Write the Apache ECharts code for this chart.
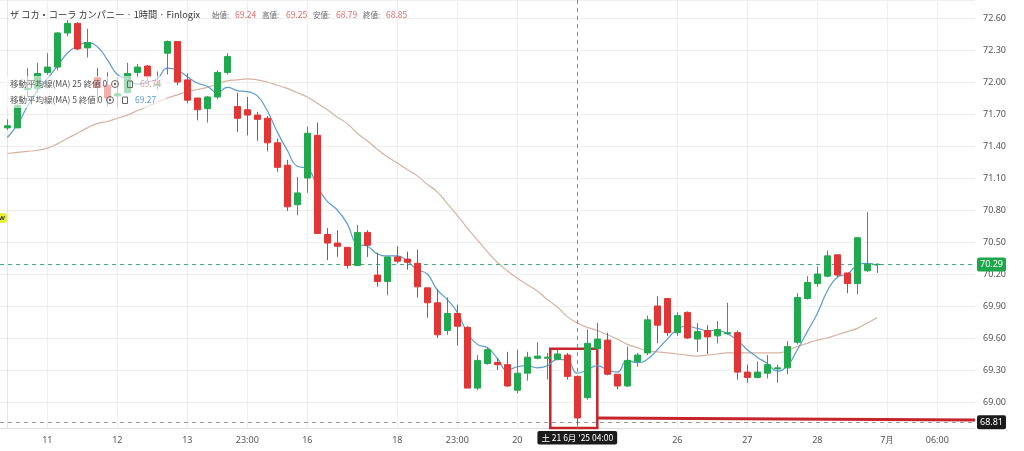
<!DOCTYPE html>
<html><head><meta charset="utf-8">
<script src="https://cdn.jsdelivr.net/npm/echarts@6/dist/echarts.min.js"></script>
<style>html,body{margin:0;padding:0;background:#fff}#c{width:1024px;height:451px}</style>
</head><body><div id="c"></div>
<script>
const opens = [71.57,71.57,71.93,71.94,72.09,72.14,72.46,72.55,72.32,72.04,71.97,71.87,71.90,72.09,72.15,71.97,72.27,72.38,72.02,71.85,71.75,71.86,72.09,71.77,71.74,71.69,71.66,71.43,71.22,70.85,71.10,71.50,70.57,70.49,70.45,70.28,70.59,70.19,70.13,70.36,70.34,70.30,70.07,69.93,69.67,69.83,69.70,69.13,69.36,69.37,69.35,69.11,69.27,69.41,69.41,69.40,69.44,69.24,69.04,69.50,69.58,69.26,69.15,69.38,69.46,69.90,69.97,69.65,69.84,69.59,69.67,69.62,69.64,69.65,69.28,69.23,69.27,69.31,69.32,69.56,69.97,70.11,70.18,70.38,70.21,70.11,70.23,70.29];
const closes = [71.59,71.78,71.94,72.08,72.14,72.46,72.55,72.31,72.37,71.95,71.85,71.89,72.08,72.14,72.05,71.98,72.38,72.00,71.83,71.74,71.86,72.09,72.24,71.66,71.69,71.65,71.43,71.20,70.83,70.96,71.52,70.58,70.49,70.46,70.28,70.59,70.47,70.13,70.36,70.32,70.31,70.08,69.93,69.63,69.83,69.71,69.13,69.39,69.49,69.35,69.15,69.27,69.42,69.43,69.42,69.45,69.24,68.85,69.55,69.59,69.26,69.15,69.39,69.44,69.77,69.72,69.65,69.81,69.60,69.66,69.61,69.68,69.65,69.28,69.23,69.28,69.35,69.32,69.52,69.98,70.12,70.20,70.37,70.19,70.11,70.54,70.29,70.29];
const lows = [71.55,71.57,71.86,71.90,72.07,72.11,72.43,72.30,72.23,71.80,71.77,71.76,71.90,72.04,72.02,71.93,72.07,71.97,71.80,71.64,71.62,71.84,72.07,71.53,71.50,71.45,71.35,71.16,70.79,70.75,70.96,70.58,70.33,70.36,70.25,70.28,70.36,70.08,70.00,70.30,70.24,69.98,69.79,69.60,69.63,69.53,69.13,69.11,69.35,69.30,69.14,69.08,69.20,69.40,69.21,69.39,69.21,68.79,69.02,69.49,69.25,69.12,69.14,69.33,69.44,69.55,69.62,69.62,69.59,69.47,69.45,69.55,69.63,69.21,69.18,69.22,69.22,69.18,69.26,69.54,69.96,70.08,70.17,70.17,70.02,70.01,70.22,70.21];
const highs = [71.65,71.81,72.13,72.18,72.27,72.47,72.58,72.56,72.50,72.13,72.09,72.05,72.18,72.17,72.16,72.10,72.39,72.38,72.08,71.85,71.87,72.11,72.27,71.90,71.86,71.72,71.68,71.47,71.27,71.11,71.58,71.62,70.63,70.61,70.45,70.66,70.61,70.40,70.36,70.46,70.41,70.43,70.07,70.06,69.98,69.91,69.71,69.44,69.51,69.41,69.47,69.49,69.47,69.56,69.46,69.49,69.46,69.25,69.68,69.74,69.65,69.26,69.52,69.46,69.81,69.99,69.97,69.84,69.85,69.74,69.72,69.76,69.93,69.67,69.35,69.38,69.44,69.35,69.57,70.02,70.18,70.27,70.42,70.38,70.21,70.54,70.78,70.30];
const ma5 = [71.48,71.60,71.77,71.92,72.03,72.15,72.27,72.34,72.37,72.33,72.21,72.07,72.03,71.98,72.00,72.03,72.13,72.11,72.05,71.99,71.96,71.90,71.95,71.92,71.91,71.87,71.73,71.53,71.36,71.21,71.19,71.02,70.88,70.80,70.67,70.48,70.46,70.39,70.37,70.37,70.32,70.24,70.20,70.05,69.96,69.84,69.65,69.54,69.51,69.41,69.30,69.33,69.34,69.32,69.34,69.40,69.39,69.27,69.30,69.34,69.30,69.28,69.39,69.37,69.40,69.49,69.59,69.68,69.71,69.69,69.67,69.67,69.64,69.58,69.49,69.42,69.36,69.29,69.34,69.49,69.66,69.83,70.04,70.17,70.20,70.28,70.30,70.28];
const ma25 = [71.33,71.34,71.35,71.36,71.38,71.42,71.47,71.52,71.57,71.61,71.63,71.66,71.69,71.73,71.77,71.81,71.85,71.88,71.91,71.93,71.95,71.98,72.01,72.02,72.03,72.02,72.00,71.97,71.94,71.90,71.86,71.80,71.74,71.67,71.61,71.52,71.45,71.37,71.30,71.24,71.18,71.12,71.04,70.97,70.86,70.75,70.63,70.52,70.41,70.31,70.23,70.16,70.10,70.04,69.96,69.89,69.80,69.74,69.70,69.67,69.63,69.59,69.54,69.51,69.48,69.47,69.46,69.45,69.44,69.43,69.44,69.45,69.46,69.46,69.46,69.46,69.46,69.46,69.48,69.52,69.55,69.58,69.60,69.63,69.66,69.69,69.74,69.79];
const tickIdx = [4,11,18,24,30,39,45,51,67,74,81,88,93];
const tickLabels = ['11','12','13','23:00','16','18','23:00','20','26','27','28','7月','06:00'];
const lastPrice = 70.29;
const hoverIdx = 57;
const hoverPrice = 68.81;
const hoverTimeLabel = "土 21 6月 '25 04:00";
const boxFrom = [54.3, 69.50];
const lineFrom = [59.0, 68.85];
const lineTo = [96.77, 68.83];

const UP = '#22a94f', DOWN = '#e03636';
const CJK = '"Noto Sans CJK JP","Noto Sans",sans-serif';
const candleData = opens.map((o, i) => [i, o, closes[i], lows[i], highs[i]]);
const chart = echarts.init(document.getElementById('c'), null, {renderer: 'canvas'});
const fmt = v => v.toFixed(2);

function txt(text, x, y, fill, size, extra) {
  return Object.assign({type: 'text', z: 20, style: {text: text, x: x, y: y, fill: fill, font: size + 'px ' + CJK, verticalAlign: 'middle', align: 'left'}}, extra || {});
}

const yMin = 68.756, yMax = 72.769;

chart.setOption({
  animation: false,
  backgroundColor: '#fff',
  grid: {left: 0, right: 49, top: 0, bottom: 23, containLabel: false, outerBoundsMode: 'none'},
  xAxis: {
    type: 'value', min: -0.73, max: 96.77,
    axisLine: {show: true, lineStyle: {color: '#dddddd'}},
    axisTick: {show: false, customValues: tickIdx},
    axisLabel: {customValues: tickIdx, color: '#555', fontSize: 9, fontFamily: 'Noto Sans', margin: 8,
      formatter: v => { const k = tickIdx.indexOf(v); return k >= 0 ? tickLabels[k] : ''; }},
    splitLine: {show: true, lineStyle: {color: '#efefef', width: 1}}
  },
  yAxis: {
    type: 'value', position: 'right', min: yMin, max: yMax, splitNumber: 13, scale: true,
    axisLine: {show: true, lineStyle: {color: '#e6e6e6'}},
    axisTick: {show: false},
    axisLabel: {color: '#555', fontSize: 9, fontFamily: 'Noto Sans', margin: 8, showMinLabel: false, showMaxLabel: false, formatter: v => fmt(v)},
    splitLine: {show: true, lineStyle: {color: '#efefef', width: 1}}
  },
  series: [
    {
      type: 'line', name: 'MA25', data: ma25.map((v, i) => [i, v]), smooth: true, symbol: 'none',
      lineStyle: {color: '#d6b2a4', width: 1.2}, z: 3
    },
    {
      type: 'line', name: 'MA5', data: ma5.map((v, i) => [i, v]), smooth: true, symbol: 'none',
      lineStyle: {color: '#5b9bcf', width: 1.2}, z: 4
    },
    {
      type: 'candlestick', name: 'KO', data: candleData, barWidth: 7, z: 5,
      itemStyle: {color: UP, color0: DOWN, borderColor: UP, borderColor0: DOWN, borderWidth: 1},
      markArea: {
        silent: true,
        itemStyle: {color: 'rgba(0,0,0,0)', borderColor: '#c4262c', borderWidth: 2.5},
        data: [[{xAxis: boxFrom[0], yAxis: boxFrom[1]}, {xAxis: lineFrom[0], yAxis: yMin}]]
      },
      markLine: {
        silent: true, symbol: ['none', 'none'], animation: false,
        data: [
          {yAxis: lastPrice, lineStyle: {color: '#3fae82', type: [4, 4], width: 1},
            label: {show: true, position: 'end', formatter: fmt(lastPrice), color: '#fff', backgroundColor: '#1fa64a',
              fontSize: 9, fontFamily: 'Noto Sans', padding: [3, 3, 2, 3], borderRadius: 2, distance: 2}},
          {yAxis: hoverPrice, lineStyle: {color: '#9a9a9a', type: [4, 4], width: 1},
            label: {show: true, position: 'end', formatter: fmt(hoverPrice), color: '#fff', backgroundColor: '#1b1b1b',
              fontSize: 9, fontFamily: 'Noto Sans', padding: [3, 3, 2, 3], borderRadius: 2, distance: 2}},
          {xAxis: hoverIdx, lineStyle: {color: '#8a8a8a', type: [4, 4], width: 1},
            label: {show: true, position: 'start', formatter: hoverTimeLabel, color: '#fff', backgroundColor: '#1b1b1b',
              fontSize: 8.5, fontFamily: CJK, padding: [3, 4, 2, 4], borderRadius: 2, distance: 3}},
          [{coord: lineFrom, lineStyle: {color: '#c4262c', type: 'solid', width: 3}, label: {show: false}}, {coord: lineTo}]
        ]
      }
    }
  ],
  graphic: [
    {type: 'rect', z: 15, shape: {x: 6, y: 76, width: 160, height: 32}, style: {fill: 'rgba(255,255,255,0.6)'}},
    txt('ザ コカ・コーラ カンパニー · 1時間 · Finlogix', 10, 15, '#333', 9.2),
    txt('始値:', 212, 15, '#666', 7.5),
    txt(fmt(opens[hoverIdx]), 235, 15, '#e06a6a', 8.5),
    txt('高値:', 262, 15, '#666', 7.5),
    txt(fmt(highs[hoverIdx]), 286, 15, '#e06a6a', 8.5),
    txt('安値:', 313, 15, '#666', 7.5),
    txt(fmt(lows[hoverIdx]), 336, 15, '#e06a6a', 8.5),
    txt('終値:', 363, 15, '#666', 7.5),
    txt(fmt(closes[hoverIdx]), 386, 15, '#e06a6a', 8.5),
    txt('移動平均線(MA) 25 終値 0', 10, 84, '#555', 8.5),
    {type: 'circle', z: 20, shape: {cx: 115, cy: 84, r: 3.5}, style: {fill: 'none', stroke: '#666', lineWidth: 1}},
    {type: 'circle', z: 20, shape: {cx: 115, cy: 84, r: 1.2}, style: {fill: '#666'}},
    {type: 'rect', z: 20, shape: {x: 127.5, y: 81, width: 5, height: 6.5}, style: {fill: 'none', stroke: '#666', lineWidth: 1}},
    txt(fmt(ma25[hoverIdx]), 140, 84, '#e29a9a', 8.5),
    txt('移動平均線(MA) 5 終値 0', 10, 100, '#555', 8.5),
    {type: 'circle', z: 20, shape: {cx: 110, cy: 100, r: 3.5}, style: {fill: 'none', stroke: '#666', lineWidth: 1}},
    {type: 'circle', z: 20, shape: {cx: 110, cy: 100, r: 1.2}, style: {fill: '#666'}},
    {type: 'rect', z: 20, shape: {x: 122.5, y: 97, width: 5, height: 6.5}, style: {fill: 'none', stroke: '#666', lineWidth: 1}},
    txt(fmt(ma5[hoverIdx]), 135, 100, '#5b9bcf', 8.5),
    {type: 'rect', z: 20, shape: {x: -3, y: 213, width: 10, height: 10, r: 3}, style: {fill: '#e3f03c'}},
    {type: 'text', z: 21, style: {text: 'W', x: 2, y: 218.5, fill: '#333', font: 'bold 6px "Noto Sans"', align: 'center', verticalAlign: 'middle'}}
  ]
});
</script>
</body></html>
